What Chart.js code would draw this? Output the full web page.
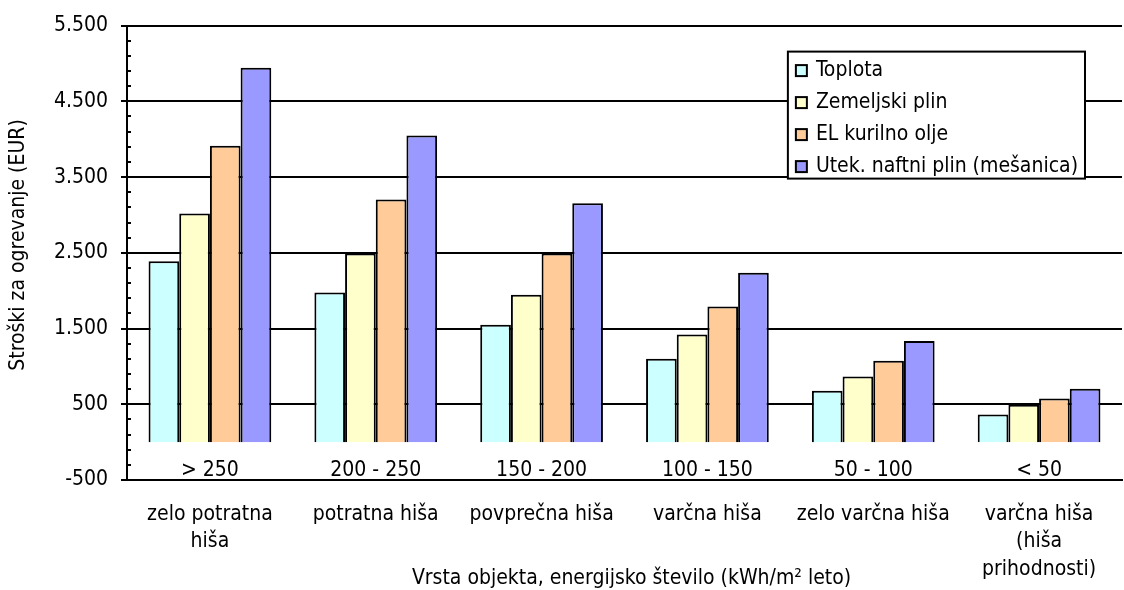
<!DOCTYPE html>
<html lang="sl">
<head>
<meta charset="UTF-8">
<title>Stroški za ogrevanje</title>
<script src="https://cdn.jsdelivr.net/npm/chart.js"></script>
<style>
  html, body { margin: 0; padding: 0; background: #fff; }
  #wrap { width: 1124px; height: 590px; }
</style>
</head>
<body>
<div id="wrap"><canvas id="costChart"></canvas></div>
<script>
// categories (two label rows under each group)
const ranges = ['> 250', '200 - 250', '150 - 200', '100 - 150', '50 - 100', '< 50'];
const houseTypes = [['zelo potratna', 'hiša'], ['potratna hiša'], ['povprečna hiša'], ['varčna hiša'],
                    ['zelo varčna hiša'], ['varčna hiša', '(hiša', 'prihodnosti)']];

// series (EUR)
const toplota = [2390, 1975, 1550, 1100, 680, 365];
const zemeljskiPlin = [3020, 2490, 1945, 1420, 865, 495];
const kurilnoOlje = [3915, 3205, 2490, 1790, 1075, 575];
const naftniPlin = [4945, 4050, 3155, 2235, 1335, 705];

const seriesNames = ['Toplota', 'Zemeljski plin', 'EL kurilno olje', 'Utek. naftni plin (mešanica)'];
const seriesColors = ['#CCFFFF', '#FFFFCC', '#FFCC99', '#9999FF'];

// y axis
const yMin = -500, yMax = 5500, yStep = 1000, yMinorStep = 200;

const yTitle = 'Stroški za ogrevanje (EUR)';
const xTitle = 'Vrsta objekta, energijsko število (kWh/m² leto)';

const FONT = "'DejaVu Sans Condensed', 'DejaVu Sans', sans-serif";
const FS = 21;
Chart.defaults.font.family = FONT;
Chart.defaults.font.size = FS;
Chart.defaults.color = '#000';

function fmt(v) {
    return String(v).replace(/\B(?=(\d{3})+(?!\d))/g, '.');
}

// minor ticks, range labels, titles and the boxed legend
const extras = {
    id: 'extras',
    afterDraw(chart) {
        const ctx = chart.ctx;
        const xs = chart.scales.x, ys = chart.scales.y, area = chart.chartArea;
        ctx.save();

        ctx.strokeStyle = '#000';
        ctx.lineWidth = 2;
        for (let v = yMin + yMinorStep; v < yMax; v += yMinorStep) {
            if ((v - yMin) % yStep === 0) continue;
            const py = Math.round(ys.getPixelForValue(v));
            ctx.beginPath();
            ctx.moveTo(area.left, py);
            ctx.lineTo(area.left + 4, py);
            ctx.stroke();
        }

        ctx.font = FS + 'px ' + FONT;
        ctx.fillStyle = '#000';
        ctx.textAlign = 'center';
        ctx.textBaseline = 'middle';
        ranges.forEach((r, i) => {
            ctx.fillText(r, xs.getPixelForValue(i), ys.getPixelForValue(yMin) - 9);
        });

        ctx.fillText(xTitle, (area.left + area.right) / 2 + 7, chart.height - 11);

        ctx.save();
        ctx.translate(19, 245);
        ctx.rotate(-Math.PI / 2);
        ctx.fillText(yTitle, 0, 0);
        ctx.restore();

        // legend
        const textW = Math.max(...seriesNames.map(n => ctx.measureText(n).width));
        const boxW = 28 + textW + 7, boxH = 127;
        const right = area.right - 37, top = area.top + 26;
        const left = right - boxW;
        ctx.fillStyle = '#fff';
        ctx.fillRect(left, top, boxW, boxH);
        ctx.lineWidth = 2;
        ctx.strokeRect(left, top, boxW, boxH);
        ctx.textAlign = 'left';
        chart.data.datasets.forEach((ds, i) => {
            const cy = top + 19 + i * 32;
            ctx.fillStyle = ds.backgroundColor;
            ctx.fillRect(left + 8, cy - 5.5, 11, 11);
            ctx.lineWidth = 2;
            ctx.strokeRect(left + 8, cy - 5.5, 11, 11);
            ctx.fillStyle = '#000';
            ctx.fillText(ds.label, left + 28, cy);
        });

        ctx.restore();
    }
};

const seriesData = [toplota, zemeljskiPlin, kurilnoOlje, naftniPlin];

new Chart(document.getElementById('costChart'), {
    type: 'bar',
    data: {
        labels: houseTypes,
        datasets: seriesData.map((d, i) => ({
            label: seriesNames[i],
            data: d,
            backgroundColor: seriesColors[i],
            borderColor: '#000',
            borderWidth: 2,
            categoryPercentage: 0.74,
            barPercentage: 1
        }))
    },
    options: {
        responsive: true,
        maintainAspectRatio: false,
        animation: false,
        layout: { padding: { top: 24, right: 2, left: 0, bottom: 0 } },
        plugins: {
            legend: { display: false },
            tooltip: { enabled: false }
        },
        scales: {
            x: {
                grid: { display: false, drawTicks: false },
                border: { display: true, color: '#000', width: 2 },
                ticks: {
                    padding: 21,
                    maxRotation: 0,
                    autoSkip: false,
                    font: { size: FS, lineHeight: 1.3 }
                },
                afterFit(s) { s.height = 110; }
            },
            y: {
                min: yMin,
                max: yMax,
                grid: { color: '#000', lineWidth: 2, tickLength: 6 },
                border: { display: true, color: '#000', width: 2 },
                ticks: {
                    stepSize: yStep,
                    padding: 13,
                    callback: v => fmt(v)
                },
                afterFit(s) { s.width = 127; }
            }
        }
    },
    plugins: [extras]
});
</script>
</body>
</html>
